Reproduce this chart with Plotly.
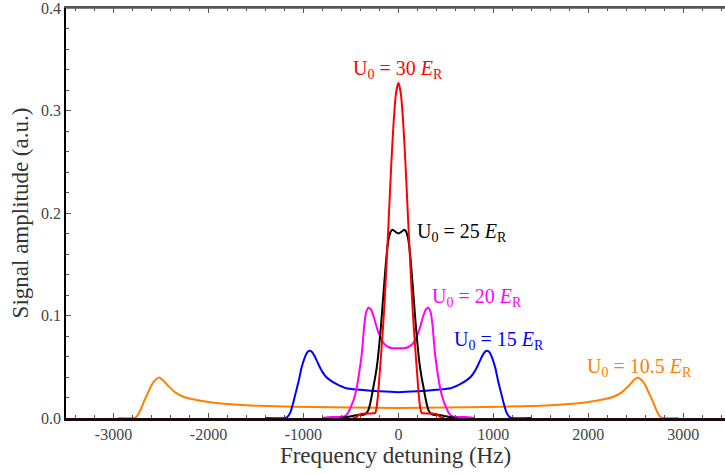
import plotly.graph_objects as go

# Detuning (Hz) and signal amplitude (a.u.) for each lattice depth U0
red_hz = [-480, -440, -400, -340, -280, -245, -230, -215, -200, -175, -150, -125, -100, -75, -50, -25, 0,
          25, 50, 75, 100, 125, 150, 175, 200, 215, 230, 245, 280, 340, 400, 440, 480]
red_amp = [0.0, 0.001, 0.004, 0.0045, 0.0045, 0.005, 0.010, 0.022, 0.040, 0.071, 0.106, 0.150, 0.198, 0.247, 0.289, 0.317, 0.327,
           0.317, 0.289, 0.247, 0.198, 0.150, 0.106, 0.071, 0.040, 0.022, 0.010, 0.005, 0.0045, 0.0045, 0.004, 0.001, 0.0]

black_hz = [-620, -540, -480, -430, -380, -345, -320, -300, -280, -260, -240, -220, -200, -180, -165, -150, -130, -115, -100, -80, -60, -30, 0,
            30, 60, 80, 100, 115, 130, 150, 165, 180, 200, 220, 240, 260, 280, 300, 320, 345, 380, 430, 480, 540, 620]
black_amp = [0.0, 0.001, 0.002, 0.003, 0.003, 0.004, 0.007, 0.013, 0.022, 0.032, 0.042, 0.055, 0.073, 0.094, 0.112, 0.130, 0.153, 0.167, 0.176, 0.182, 0.1836, 0.1815, 0.180,
             0.1815, 0.1836, 0.182, 0.176, 0.167, 0.153, 0.130, 0.112, 0.094, 0.073, 0.055, 0.042, 0.032, 0.022, 0.013, 0.007, 0.004, 0.003, 0.003, 0.002, 0.001, 0.0]

magenta_hz = [-800, -700, -600, -560, -530, -500, -470, -438, -410, -385, -360, -340, -315, -290, -260, -230, -200, -170, -140, -100, -60, 0,
              60, 100, 140, 170, 200, 230, 260, 290, 315, 340, 360, 385, 410, 438, 470, 500, 530, 560, 600, 700, 800]
magenta_amp = [0.0, 0.001, 0.001, 0.002, 0.005, 0.011, 0.018, 0.030, 0.046, 0.063, 0.090, 0.103, 0.1076, 0.106, 0.099, 0.089, 0.081, 0.075, 0.0715, 0.069, 0.068, 0.068,
               0.068, 0.069, 0.0715, 0.075, 0.081, 0.089, 0.099, 0.106, 0.1076, 0.103, 0.090, 0.063, 0.046, 0.030, 0.018, 0.011, 0.005, 0.002, 0.001, 0.001, 0.0]

blue_hz = [-1400, -1200, -1170, -1140, -1110, -1080, -1050, -1020, -990, -960, -935, -910, -880, -840, -800, -760, -720, -650, -550, -400, -200, 0,
           200, 400, 550, 650, 720, 760, 800, 840, 880, 910, 935, 960, 990, 1020, 1050, 1080, 1110, 1140, 1170, 1200, 1400]
blue_amp = [0.0, 0.0, 0.001, 0.005, 0.014, 0.025, 0.036, 0.049, 0.058, 0.064, 0.0655, 0.0645, 0.060, 0.052, 0.045, 0.040, 0.037, 0.033, 0.029, 0.0275, 0.026, 0.0252,
            0.026, 0.0275, 0.029, 0.033, 0.037, 0.040, 0.045, 0.052, 0.060, 0.0645, 0.0655, 0.064, 0.058, 0.049, 0.036, 0.025, 0.014, 0.005, 0.001, 0.0, 0.0]

orange_hz = [-2950, -2800, -2760, -2720, -2680, -2640, -2600, -2560, -2520, -2480, -2420, -2350, -2270, -2150, -2000, -1800, -1600, -1300, -900, -500, 0,
             500, 900, 1300, 1600, 1800, 2000, 2150, 2270, 2350, 2420, 2480, 2520, 2560, 2600, 2640, 2680, 2720, 2760, 2800, 2950]
orange_amp = [0.0, 0.0, 0.001, 0.007, 0.016, 0.024, 0.032, 0.037, 0.0395, 0.037, 0.031, 0.025, 0.021, 0.018, 0.0156, 0.0137, 0.0124, 0.0115, 0.0107, 0.0102, 0.0098,
              0.0102, 0.0107, 0.0115, 0.0124, 0.0137, 0.0156, 0.018, 0.021, 0.025, 0.031, 0.037, 0.0395, 0.037, 0.032, 0.024, 0.016, 0.007, 0.001, 0.0, 0.0]

x_tick_vals = [-3000, -2000, -1000, 0, 1000, 2000, 3000]
x_tick_text = ["-3000", "-2000", "-1000", "0", "1000", "2000", "3000"]
y_tick_vals = [0.0, 0.1, 0.2, 0.3, 0.4]
y_tick_text = ["0.0", "0.1", "0.2", "0.3", "0.4"]

SERIF = "Liberation Serif, Times New Roman, serif"
X_RANGE = [-3500, 3439]
Y_RANGE = [0, 0.4]

series = [
    (orange_hz, orange_amp, "#ff8000", "U<sub>0</sub> = 10.5 <i>E</i><sub>R</sub>", 2543, 0.0493),
    (blue_hz, blue_amp, "#0000ff", "U<sub>0</sub> = 15 <i>E</i><sub>R</sub>", 1060, 0.0756),
    (magenta_hz, magenta_amp, "#ff00ff", "U<sub>0</sub> = 20 <i>E</i><sub>R</sub>", 828, 0.1175),
    (black_hz, black_amp, "#000000", "U<sub>0</sub> = 25 <i>E</i><sub>R</sub>", 670, 0.181),
    (red_hz, red_amp, "#ff0000", "U<sub>0</sub> = 30 <i>E</i><sub>R</sub>", 0, 0.340),
]

fig = go.Figure()
annotations = []
for hz, amp, color, label, lx, ly in series:
    fig.add_trace(go.Scatter(
        x=hz, y=amp, mode="lines",
        line=dict(color=color, width=2, shape="spline", smoothing=0.7),
        showlegend=False, hoverinfo="skip",
    ))
    annotations.append(dict(
        x=lx, y=ly, xref="x", yref="y", text=label, showarrow=False,
        font=dict(family=SERIF, size=20, color=color),
        xanchor="center", yanchor="middle",
    ))

fig.update_layout(
    width=725, height=474,
    margin=dict(l=66, r=0, t=8, b=56, autoexpand=False),
    paper_bgcolor="white", plot_bgcolor="white",
    annotations=annotations,
    xaxis=dict(
        range=X_RANGE, showgrid=False, zeroline=False,
        showline=True, linecolor="#1a0a10", linewidth=2.5,
        ticks="inside", ticklen=5, tickwidth=1, tickcolor="#555555",
        tickvals=x_tick_vals, ticktext=x_tick_text,
        minor=dict(dtick=200, tick0=0, ticks="inside", ticklen=3, tickcolor="#555555"),
        tickfont=dict(family=SERIF, size=16, color="#444444"),
        title=dict(text="Frequency detuning (Hz)", font=dict(family=SERIF, size=23, color="#333333"), standoff=5),
    ),
    xaxis2=dict(
        overlaying="x", side="top", anchor="y", range=X_RANGE, showgrid=False, zeroline=False,
        showline=True, linecolor="#555555", linewidth=1.5,
        ticks="inside", ticklen=5, tickwidth=1, tickcolor="#555555",
        tickvals=x_tick_vals, showticklabels=False,
        minor=dict(dtick=200, tick0=0, ticks="inside", ticklen=3, tickcolor="#555555"),
    ),
    yaxis=dict(
        range=Y_RANGE, showgrid=False, zeroline=False,
        showline=True, linecolor="#000000", linewidth=1.5,
        ticks="inside", ticklen=5, tickwidth=1, tickcolor="#555555",
        tickvals=y_tick_vals, ticktext=y_tick_text, ticklabeloverflow="allow",
        minor=dict(dtick=0.02, tick0=0, ticks="inside", ticklen=3, tickcolor="#555555"),
        tickfont=dict(family=SERIF, size=16, color="#444444"),
        title=dict(text="Signal amplitude (a.u.)", font=dict(family=SERIF, size=23, color="#333333"), standoff=6),
    ),
    # top edge of the frame, at the upper end of the amplitude axis
    shapes=[dict(type="line", xref="x", yref="y", x0=X_RANGE[0], x1=X_RANGE[1], y0=Y_RANGE[1], y1=Y_RANGE[1],
                 line=dict(color="#555555", width=1.5), layer="above")],
)

# bind an invisible point to the top frame axis so its line and ticks are drawn
fig.add_trace(go.Scatter(x=[0], y=[0.2], xaxis="x2", yaxis="y", mode="markers",
                         marker=dict(size=1, color="rgba(0,0,0,0)"), showlegend=False, hoverinfo="skip"))

fig.write_html("out.html", config={"displayModeBar": False})
